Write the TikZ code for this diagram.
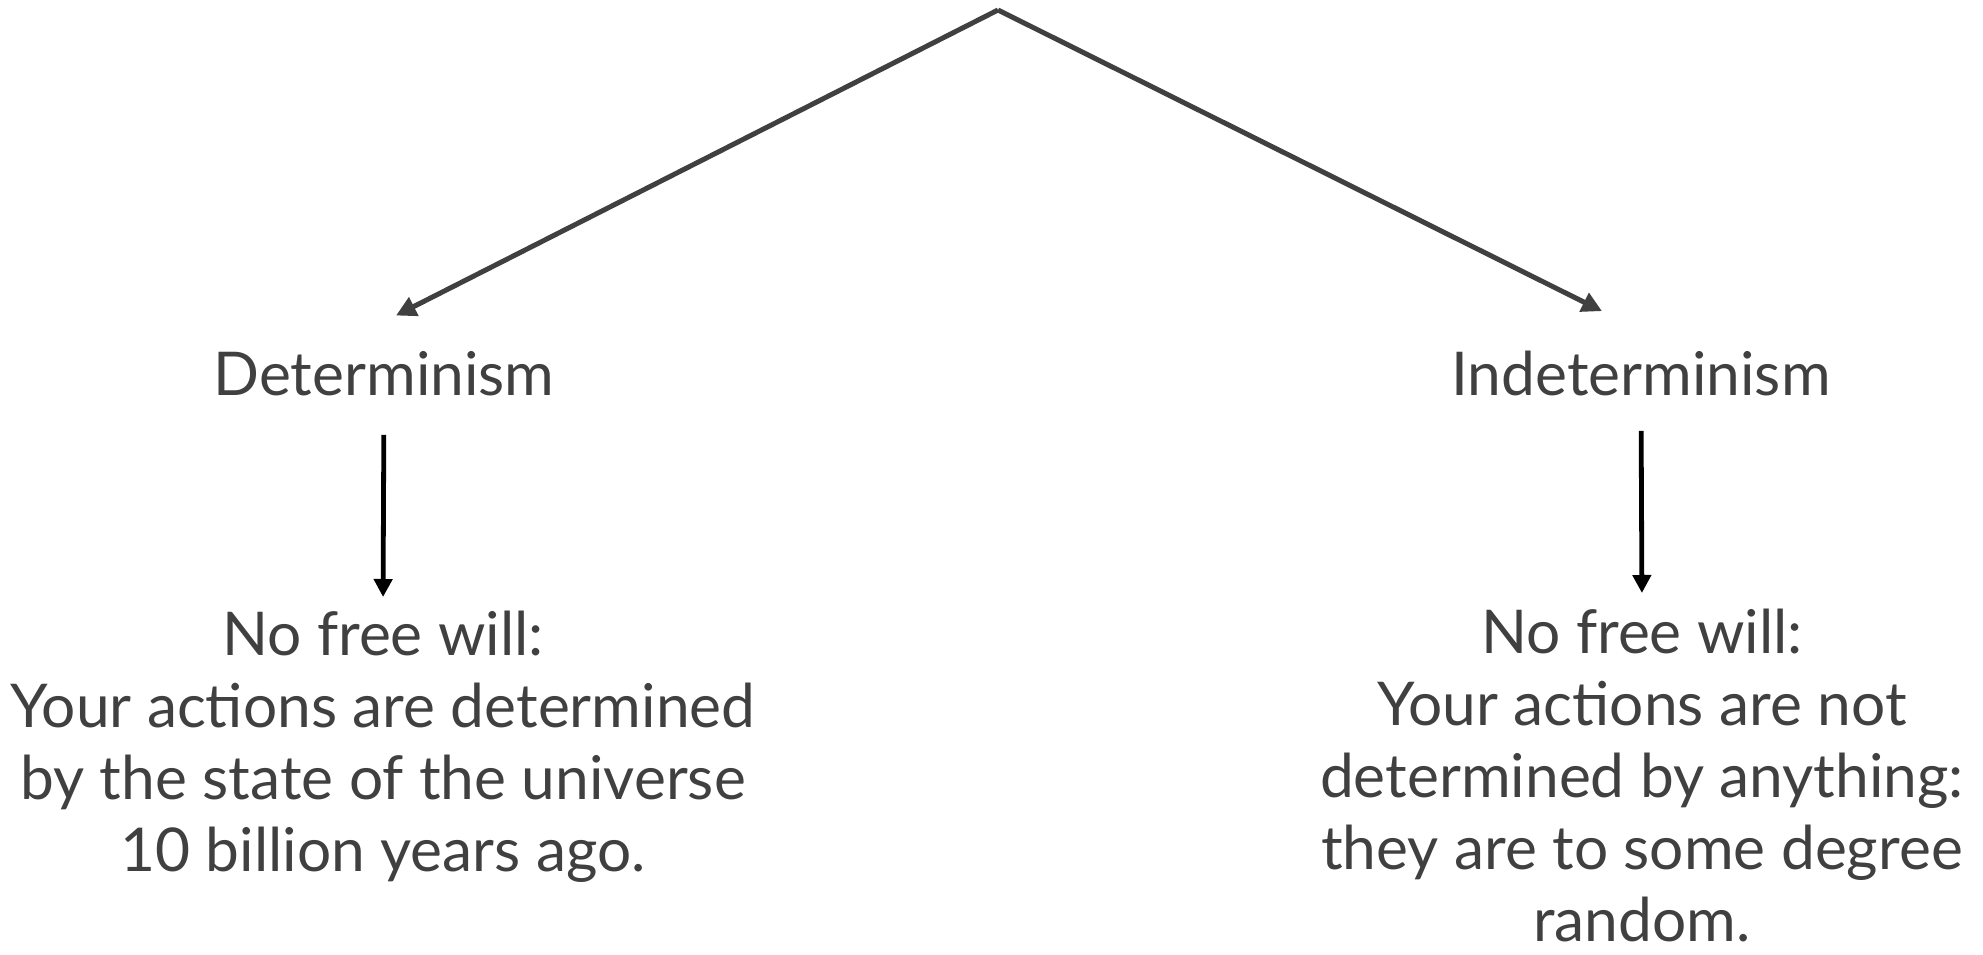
\documentclass[tikz,border=0pt]{standalone}
\usepackage{fontspec}
\setmainfont{Lato}
\usepackage{tikz}
\usetikzlibrary{positioning}
\usetikzlibrary{arrows.meta}
\definecolor{ink}{HTML}{404040}

\begin{document}
\begin{tikzpicture}[x=0.5pt,y=-0.5pt]
\tikzstyle{heading} =[inner sep=0pt,text=ink,font=\fontsize{30.2}{36}\selectfont,anchor=base]
\tikzstyle{verdict} =[inner sep=0pt,text=ink,align=center,font=\fontsize{30.2}{36}\selectfont,anchor=north]
\tikzstyle{branch} =[draw=ink,line width=2.5pt,-{Triangle[length=10pt,width=10pt]}]
\tikzstyle{consequence} =[draw=black,line width=2.4pt,-{Triangle[length=9pt,width=9pt]}]
\useasboundingbox (0,0) rectangle (1983,954);

\coordinate (top) at (998,10);
\node[heading](det) at (384,395) {Determinism};
\node[heading](indet) at (1641,395) {Indeterminism};

\node[verdict](detnote) at (383,611) {No free will:\\Your actions are determined\\by the state of the universe\\10 billion years ago.};
\node[verdict](indetnote) at (1642,609) {No free will:\\Your actions are not\\determined by anything:\\they are to some degree\\random.};

\draw[branch] (top)--([xshift=6pt,yshift=17.5pt]det.north);
\draw[branch] (top)--([xshift=-19.5pt,yshift=19.5pt]indet.north);

\draw[consequence,shorten <=19.5pt,shorten >=7pt] (det.south)--(detnote.north);
\draw[consequence,shorten <=17.5pt,shorten >=8pt] (indet.south)--(indetnote.north);
\end{tikzpicture}
\end{document}
